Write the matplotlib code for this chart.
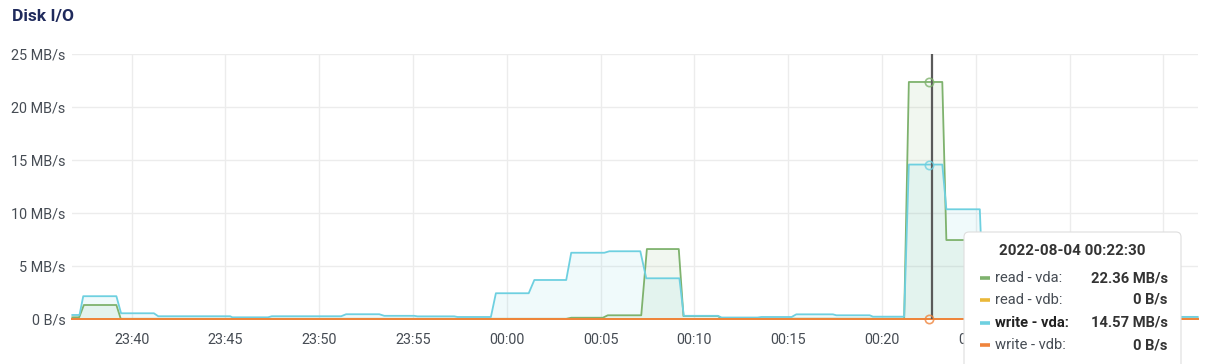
import datetime as dt
import matplotlib
matplotlib.use("Agg")
import matplotlib.pyplot as plt
import matplotlib.dates as mdates
from matplotlib.patches import FancyBboxPatch
from matplotlib.ticker import FuncFormatter

plt.rcParams['font.family'] = ['Roboto', 'DejaVu Sans']

# time window shown
t_start = "23:36:50"
t_end = "00:36:50"

# read - vda (MB/s), breakpoints of the graph line
read_vda_t = ["23:36:50", "23:37:12", "23:37:27", "23:39:11", "23:39:25", "00:03:10",
              "00:03:26", "00:05:07", "00:05:23", "00:07:10", "00:07:28", "00:09:10",
              "00:09:25", "00:11:15", "00:11:27", "00:21:11", "00:21:26", "00:23:13",
              "00:23:26", "00:25:13", "00:25:26", "00:36:50"]
read_vda_v = [0.16, 0.16, 1.32, 1.32, 0.02, 0.02,
              0.12, 0.12, 0.35, 0.35, 6.6, 6.6,
              0.28, 0.28, 0.03, 0.03, 22.36, 22.36,
              7.45, 7.45, 0.1, 0.05]

# write - vda (MB/s)
write_vda_t = ["23:36:50", "23:37:13", "23:37:25", "23:39:11", "23:39:26", "23:41:11",
               "23:41:25", "23:45:15", "23:45:22", "23:47:16", "23:47:28", "23:51:10",
               "23:51:26", "23:53:12", "23:53:28", "23:55:04", "23:55:14", "23:57:12",
               "23:57:22", "23:59:09", "23:59:25", "00:01:10", "00:01:28", "00:03:10",
               "00:03:26", "00:05:12", "00:05:28", "00:07:07", "00:07:26", "00:09:12",
               "00:09:26", "00:11:15", "00:11:27", "00:13:22", "00:13:34", "00:15:11",
               "00:15:26", "00:17:23", "00:17:34", "00:19:21", "00:19:31", "00:21:11",
               "00:21:26", "00:23:13", "00:23:26", "00:25:13", "00:25:26", "00:35:53",
               "00:36:50"]
write_vda_v = [0.38, 0.38, 2.15, 2.15, 0.54, 0.54,
               0.26, 0.26, 0.16, 0.16, 0.26, 0.26,
               0.45, 0.45, 0.3, 0.3, 0.25, 0.25,
               0.19, 0.19, 2.43, 2.43, 3.68, 3.68,
               6.25, 6.25, 6.39, 6.39, 3.84, 3.84,
               0.3, 0.3, 0.14, 0.14, 0.19, 0.19,
               0.44, 0.44, 0.35, 0.35, 0.22, 0.22,
               14.57, 14.57, 10.35, 10.35, 0.3, 0.2,
               0.2]

# vdb is idle
vdb_t = ["23:36:50", "00:36:50"]
read_vdb_v = [0, 0]
write_vdb_v = [0, 0]

hover_time = "00:22:30"
cursor_time = "00:22:41"
tooltip_title = "2022-08-04 00:22:30"
tooltip_rows = [("read - vda:", "22.36 MB/s", "#7EB26D", False),
                ("read - vdb:", "0 B/s", "#EAB839", False),
                ("write - vda:", "14.57 MB/s", "#6ED0E0", True),
                ("write - vdb:", "0 B/s", "#EF843C", False)]


def to_dt(s):
    h, m, sec = [int(p) for p in s.split(":")]
    day = 3 if h == 23 else 4
    return dt.datetime(2022, 8, day, h, m, sec)


def fmt_y(v, pos):
    if v == 0:
        return "0 B/s"
    return "%d MB/s" % v


def fmt_x(v, pos):
    t = mdates.num2date(v)
    # labels after 00:27 sit under the tooltip
    if t.hour == 0 and t.minute > 27:
        return ""
    return t.strftime("%H:%M")


fig = plt.figure(figsize=(12.27, 3.64), dpi=100)
ax = fig.add_axes([72.3 / 1227, 45 / 364, (1197.7 - 72.3) / 1227, 265 / 364])

green = "#7EB26D"
yellow = "#EAB839"
cyan = "#6ED0E0"
orange = "#EF843C"

rt = [to_dt(s) for s in read_vda_t]
wt = [to_dt(s) for s in write_vda_t]
bt = [to_dt(s) for s in vdb_t]

ax.fill_between(rt, read_vda_v, 0, color=green, alpha=0.1, lw=0, zorder=2)
ax.fill_between(wt, write_vda_v, 0, color=cyan, alpha=0.1, lw=0, zorder=2)
ax.plot(rt, read_vda_v, color=green, lw=1.3, zorder=3, clip_on=False)
ax.plot(wt, write_vda_v, color=cyan, lw=1.3, zorder=3, clip_on=False)
ax.plot(bt, read_vdb_v, color=yellow, lw=1.4, zorder=4, clip_on=False)
ax.plot(bt, write_vdb_v, color=orange, lw=1.4, zorder=4, clip_on=False)

# hover cursor and markers
ht = to_dt(hover_time)
ax.axvline(to_dt(cursor_time), color="#5a5a5a", lw=1.6, zorder=5)
ax.plot([ht], [read_vda_v[16]], marker="o", ms=6, mfc="none", mec=green, mew=1.2, alpha=0.8, zorder=6)
ax.plot([ht], [write_vda_v[42]], marker="o", ms=6, mfc="none", mec=cyan, mew=1.2, alpha=0.8, zorder=6)
ax.plot([ht], [0], marker="o", ms=6, mfc="none", mec=orange, mew=1.2, alpha=0.8, zorder=6, clip_on=False)

ax.set_xlim(to_dt(t_start), to_dt(t_end))
ax.set_ylim(0, 25)
ax.set_yticks([0, 5, 10, 15, 20, 25])
ax.yaxis.set_major_formatter(FuncFormatter(fmt_y))
ax.xaxis.set_major_locator(mdates.MinuteLocator(byminute=range(0, 60, 5)))
ax.xaxis.set_major_formatter(FuncFormatter(fmt_x))
for s in ax.spines.values():
    s.set_visible(False)
ax.grid(True, color="#ececec", lw=1.0, zorder=0)
ax.set_axisbelow(True)
ax.tick_params(axis="both", length=0, labelsize=10.4, colors="#464c54")
ax.tick_params(axis="x", pad=10)
ax.tick_params(axis="y", pad=5)

fig.text(12.5 / 1227, 1 - 21 / 364, "Disk I/O", fontsize=12.5, fontweight="bold",
         color="#1f2a5c", ha="left", va="baseline")

# tooltip box (coordinates in inches, 100 px per inch)
tr = fig.dpi_scale_trans
box = FancyBboxPatch((9.64, -0.1), 2.17, 1.42, boxstyle="round,pad=0,rounding_size=0.05",
                     transform=tr, facecolor="white", edgecolor="#dedede", lw=0.8, zorder=10)
fig.patches.append(box)
fig.text(10.725, 3.64 - 2.507, tooltip_title, transform=tr, fontsize=11, fontweight="bold",
         color="#333333", ha="center", va="center", zorder=11)
row_y = [2.783, 2.995, 3.227, 3.45]
for (lab, val, col, bold), y in zip(tooltip_rows, row_y):
    yy = 3.64 - y
    fig.add_artist(plt.Line2D([9.795, 9.905], [yy, yy], transform=tr, color=col, lw=2.6,
                              solid_capstyle="butt", zorder=11))
    fig.text(9.95, yy, lab, transform=tr, fontsize=10.6, color="#222222" if bold else "#464c54",
             fontweight="bold" if bold else "normal", ha="left", va="center", zorder=11)
    fig.text(11.677, yy, val, transform=tr, fontsize=10.6, fontweight="bold", color="#333333",
             ha="right", va="center", zorder=11)

fig.savefig("out.png", dpi=100)
